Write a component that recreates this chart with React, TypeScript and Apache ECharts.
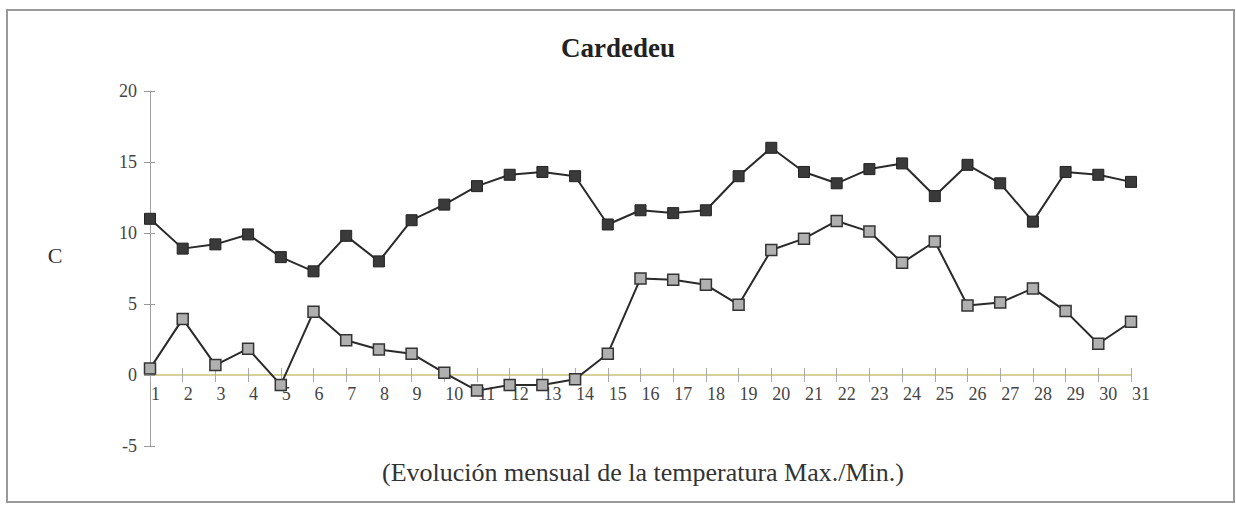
import React, { useEffect, useRef } from "react";
import * as echarts from "echarts";

const days = Array.from({ length: 31 }, (_, i) => String(i + 1));
const maxTemp = [11.0, 8.9, 9.2, 9.9, 8.3, 7.3, 9.8, 8.0, 10.9, 12.0, 13.3, 14.1, 14.3, 14.0, 10.6, 11.6, 11.4, 11.6, 14.0, 16.0, 14.3, 13.5, 14.5, 14.9, 12.6, 14.8, 13.5, 10.8, 14.3, 14.1, 13.6];
const minTemp = [0.45, 3.95, 0.7, 1.85, -0.7, 4.45, 2.45, 1.8, 1.5, 0.15, -1.1, -0.7, -0.7, -0.3, 1.5, 6.8, 6.7, 6.35, 4.95, 8.8, 9.6, 10.85, 10.1, 7.9, 9.4, 4.9, 5.1, 6.1, 4.5, 2.2, 3.75];
const titleText = "Cardedeu";
const subText = "(Evolución mensual de la temperatura Max./Min.)";
const yName = "C";
const yMin = -5;
const yMax = 20;

const FONT = "'Liberation Serif', 'DejaVu Serif', serif";

export default function App() {
  const ref = useRef<HTMLDivElement>(null);
  useEffect(() => {
    document.body.style.margin = "0";
    const chart = echarts.init(ref.current!, null, { renderer: "svg" });
    const gridTop = 91;
    const gridBottom = 59;
    const plotH = 505 - gridTop - gridBottom;
    const zeroOffset = -(plotH * (0 - yMin)) / (yMax - yMin);
    const yCommon = { type: "value", min: yMin, max: yMax, interval: 5, splitLine: { show: false } };
    chart.setOption({
      animation: false,
      backgroundColor: "#ffffff",
      title: [
        {
          text: titleText,
          left: "center",
          top: 29,
          textStyle: { fontFamily: FONT, fontSize: 27, fontWeight: "bold", color: "#222" },
        },
        {
          text: subText,
          left: 638,
          textAlign: "center",
          top: 454,
          textStyle: { fontFamily: FONT, fontSize: 26, fontWeight: "normal", color: "#333" },
        },
      ],
      graphic: [
        {
          type: "rect",
          shape: { x: 7, y: 10, width: 1227, height: 492 },
          style: { fill: "none", stroke: "#9a9a9a", lineWidth: 2 },
          silent: true,
        },
        {
          type: "text",
          x: 55,
          y: 255,
          style: { text: yName, font: `22px ${FONT}`, fill: "#333", textAlign: "center", textVerticalAlign: "middle" },
        },
      ],
      grid: { left: 150, right: 105, top: gridTop, bottom: gridBottom },
      xAxis: [
        {
          type: "category",
          data: days,
          boundaryGap: false,
          position: "bottom",
          offset: zeroOffset,
          axisLine: { onZero: false, lineStyle: { color: "#c9c27a", width: 1.5 } },
          axisTick: { show: true, length: 7, lineStyle: { color: "#aaa" } },
          axisLabel: { fontFamily: FONT, fontSize: 18, color: "#444", align: "left", margin: 10, padding: [0, 0, 0, 1] },
        },
        {
          type: "category",
          data: days,
          boundaryGap: false,
          position: "bottom",
          offset: zeroOffset,
          axisLine: { show: false, onZero: false },
          axisTick: { show: true, inside: true, length: 7, lineStyle: { color: "#aaa" } },
          axisLabel: { show: false },
        },
      ],
      yAxis: [
        {
          ...yCommon,
          position: "left",
          axisLine: { show: true, lineStyle: { color: "#a0a0a0", width: 1 } },
          axisTick: { show: true, length: 6, lineStyle: { color: "#999" } },
          axisLabel: { fontFamily: FONT, fontSize: 18, color: "#444", margin: 13 },
        },
        {
          ...yCommon,
          position: "left",
          axisLine: { show: false },
          axisTick: { show: true, inside: true, length: 5, lineStyle: { color: "#999" } },
          axisLabel: { show: false },
        },
      ],
      series: [
        {
          name: "Max",
          type: "line",
          data: maxTemp,
          symbol: "rect",
          symbolSize: 11,
          lineStyle: { color: "#2a2a2a", width: 2 },
          itemStyle: { color: "#3a3a3a", borderColor: "#222", borderWidth: 1 },
        },
        {
          name: "Min",
          type: "line",
          data: minTemp,
          symbol: "rect",
          symbolSize: 11,
          lineStyle: { color: "#2a2a2a", width: 2 },
          itemStyle: { color: "#b0b0b0", borderColor: "#333", borderWidth: 1.5 },
        },
      ],
    });
    return () => chart.dispose();
  }, []);
  return <div ref={ref} style={{ position: "fixed", left: 0, top: 0, width: 1236, height: 505 }} />;
}
